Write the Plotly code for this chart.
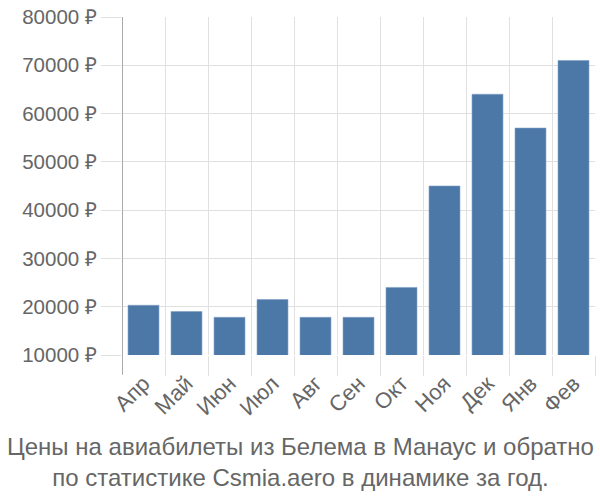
import plotly.graph_objects as go

months = ["Апр", "Май", "Июн", "Июл", "Авг", "Сен", "Окт", "Ноя", "Дек", "Янв", "Фев"]
prices = [20300, 19000, 17800, 21500, 17800, 17800, 24000, 45000, 64000, 57000, 71000]
y_ticks = [10000, 20000, 30000, 40000, 50000, 60000, 70000, 80000]
title_lines = ["Цены на авиабилеты из Белема в Манаус и обратно",
               "по статистике Csmia.aero в динамике за год."]

FONT = "Liberation Sans"
GREY = "#666666"
GRID = "#e0e0e0"
PLOT_H = 500 - 14 - 145
PLOT_W = 600 - 122 - 5

xs = list(range(len(months)))
fig = go.Figure(go.Bar(x=xs, y=prices, marker=dict(color="#4c78a8", line=dict(color="#7f9fc4", width=0.6)),
                       width=0.72))

fig.update_layout(
    width=600, height=500,
    margin=dict(l=122, r=5, t=14, b=145),
    plot_bgcolor="white", paper_bgcolor="white",
    showlegend=False,
    font=dict(family=FONT, color=GREY, size=20),
)
fig.update_xaxes(
    range=[-0.5, len(months) - 0.5],
    tickmode="array", tickvals=xs, ticktext=months, tickangle=-45,
    showgrid=False, ticks="outside", ticklen=6, tickcolor="rgba(0,0,0,0)", zeroline=False,
    tickfont=dict(size=22, color=GREY, family=FONT),
    minor=dict(tickmode="array", tickvals=[i + 0.5 for i in xs[:-1]] + [len(months) - 0.5],
               showgrid=True, gridcolor=GRID, gridwidth=1,
               ticks="outside", ticklen=20, tickcolor=GRID, tickwidth=1),
)
fig.update_yaxes(
    range=[10000, 80000],
    tickmode="array", tickvals=y_ticks, ticktext=[f"{v} ₽" for v in y_ticks],
    showgrid=True, gridcolor=GRID, gridwidth=1,
    ticks="outside", ticklen=20, tickcolor=GRID,
    zeroline=False, showline=False,
    tickfont=dict(size=20.5, color=GREY, family=FONT),
)
fig.add_shape(type="line", xref="x", yref="paper", x0=-0.5, x1=-0.5, y0=-20 / PLOT_H, y1=1,
              line=dict(color="#aaaaaa", width=2))
fig.add_annotation(text="<br>".join(title_lines), xref="paper", yref="paper",
                   x=(300 - 122) / PLOT_W, y=-(432 - 355) / PLOT_H, xanchor="center", yanchor="top",
                   showarrow=False, align="center",
                   font=dict(size=24, color=GREY, family=FONT))
fig.write_html("out.html")
